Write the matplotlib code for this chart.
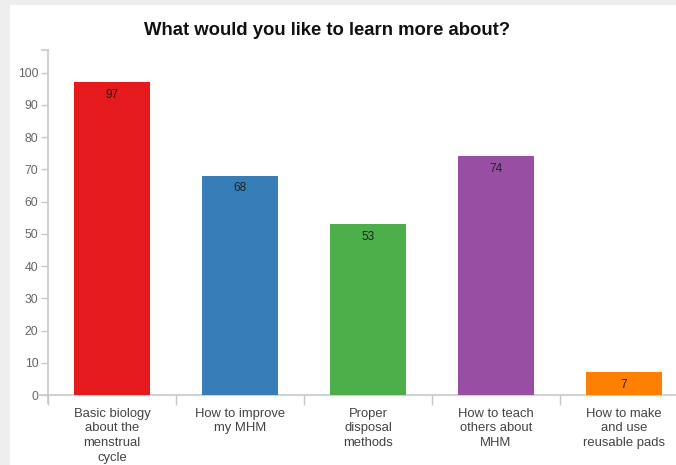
import matplotlib.pyplot as plt
from matplotlib.patches import Rectangle

plt.rcParams['font.family'] = ['Liberation Sans', 'DejaVu Sans']

topics = ["Basic biology\nabout the\nmenstrual\ncycle",
          "How to improve\nmy MHM",
          "Proper\ndisposal\nmethods",
          "How to teach\nothers about\nMHM",
          "How to make\nand use\nreusable pads"]
counts = [97, 68, 53, 74, 7]
colors = ['#e41a1c', '#377eb8', '#4daf4a', '#984ea3', '#ff7f00']
yticks = list(range(0, 101, 10))

W, H = 676, 465
axis_grey = '#c8c8c8'
fig = plt.figure(figsize=(W / 100, H / 100), dpi=100)
fig.patch.set_facecolor('#eeeeee')

# white card behind the chart, drawn in pixel units
bg = fig.add_axes([0, 0, 1, 1], zorder=-1)
bg.axis('off')
bg.set_xlim(0, W)
bg.set_ylim(H, 0)
bg.add_patch(Rectangle((10, 5), W, H, facecolor='white', edgecolor='none'))
# d3-style axis lines: x line pokes out left, y line pokes out below, stub at top
bg.plot([40, W], [395, 395], color=axis_grey, lw=1.2)
bg.plot([48, 48], [50, 403], color=axis_grey, lw=1.2)
bg.plot([42, 48], [50, 50], color=axis_grey, lw=1.2)

# plot area in pixels: x 48..688 (runs off the right edge), y 50..395
ax = fig.add_axes([48 / W, 70 / H, 640 / W, 345 / H])
ax.patch.set_alpha(0)

x = range(len(counts))
bars = ax.bar(x, counts, width=0.59, color=colors, zorder=2)
for b, v in zip(bars, counts):
    ax.annotate(str(v), (b.get_x() + b.get_width() / 2, v), xytext=(0, -9),
                textcoords='offset points', ha='center', va='center',
                fontsize=8.5, color='#222222')

ax.set_xlim(-0.5, len(counts) - 0.5)
ax.set_ylim(0, 107)

for s in ax.spines.values():
    s.set_visible(False)

ax.set_yticks(yticks)
ax.set_yticklabels([str(t) for t in yticks])
ax.tick_params(axis='y', length=5, width=1, color=axis_grey, labelsize=8.8,
               labelcolor='#666666', pad=2)

# category boundaries get the tick marks, names sit between them
ax.set_xticks([i - 0.5 for i in x])
ax.set_xticklabels([])
ax.tick_params(axis='x', length=7, width=1, color=axis_grey)
for i, name in enumerate(topics):
    ax.text(i, -3.9, name, ha='center', va='top', fontsize=9.4,
            color='#444444', linespacing=1.3)

fig.text(327 / W, 1 - 30.5 / H, "What would you like to learn more about?",
         ha='center', va='center', fontsize=13.3, fontweight='bold',
         color='#111111')

fig.savefig('out.png', dpi=100)
